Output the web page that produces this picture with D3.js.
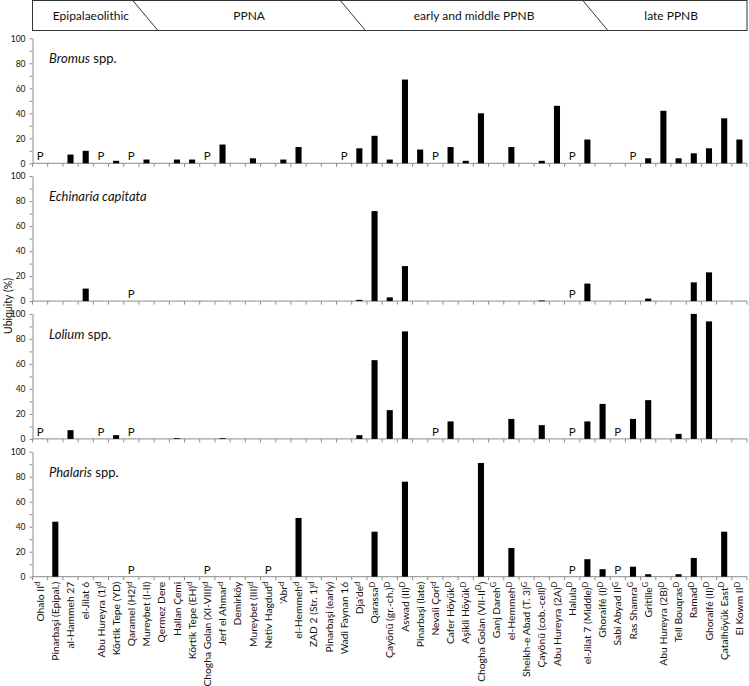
<!DOCTYPE html>
<html>
<head>
<meta charset="utf-8">
<script src="https://cdn.jsdelivr.net/npm/d3@7"></script>
<style>
body { margin: 0; background: #fff; }
text { font-family: Lato, "Open Sans", sans-serif; fill: #111; }
</style>
</head>
<body>
<svg id="chart" width="749" height="686"></svg>
<script>
// site names, "^x" marks a superscript letter
var sites = [
  "Ohalo II^d", "Pinarbaşi (Epipal.)", "al-Hammeh 27", "el-Jilat 6", "Abu Hureyra (1)^d",
  "Körtik Tepe (YD)", "Qaramel (H2)^d", "Mureybet (I-II)", "Qermez Dere", "Hallan Çemi",
  "Körtik Tepe (EH)^d", "Chogha Golan (XI-VIII)^d", "Jerf el Ahmar^d", "Demirköy", "Mureybet (III)^d",
  "Netiv Hagdud^d", "'Abr^d", "el-Hemmeh^d", "ZAD 2 (Str. 1)^d", "Pinarbaşi (early)",
  "Wadi Faynan 16", "Dja'de^d", "Qarassa^D", "Çayönü (gr.-ch.)^D", "Aswad (II)^D",
  "Pinarbaşi (late)", "Nevali Çori^d", "Cafer Höyük^D", "Aşikli Höyük^D", "Chogha Golan (VII-II^D)",
  "Ganj Dareh^G", "el-Hemmeh^D", "Sheikh-e Abad (T. 3)^G", "Çayönü (cob.-cell)^D", "Abu Hureyra (2A)^D",
  "Halula^D", "el-Jilat 7 (Middle)^D", "Ghoraifé (I)^D", "Sabi Abyad II^G", "Ras Shamra^G",
  "Gritille^G", "Abu Hureyra (2B)^D", "Tell Bouqras^D", "Ramad^D", "Ghoraifé (II)^D",
  "Çatalhöyük East^D", "El Kowm II^D"
];

// ubiquity (%) per site, "P" = present
var bromus = [
  "P", 0, 7, 10, "P", 2, "P", 3, 0, 3,
  3, "P", 15, 0, 4, 0, 3, 13, 0, 0,
  "P", 12, 22, 3, 67, 11, "P", 13, 2, 40,
  0, 13, 0, 2, 46, "P", 19, 0, 0, "P",
  4, 42, 4, 8, 12, 36, 19
];
var echinaria = [
  0, 0, 0, 10, 0, 0, "P", 0, 0, 0,
  0, 0, 0, 0, 0, 0, 0, 0, 0, 0,
  0, 1, 72, 3, 28, 0, 0, 0, 0, 0,
  0, 0, 0, 0.5, 0, "P", 14, 0, 0, 0,
  2, 0, 0, 15, 23, 0, 0
];
var lolium = [
  "P", 0, 7, 0, "P", 3, "P", 0, 0, 0.6,
  0, 0, 0.6, 0, 0, 0, 0, 0, 0, 0,
  0, 3, 63, 23, 86, 0, "P", 14, 0, 0,
  0, 16, 0, 11, 0, "P", 14, 28, "P", 16,
  31, 0, 4, 100, 94, 0, 0
];
var phalaris = [
  0, 44, 0, 0, 0, 0, "P", 0, 0, 0,
  0, "P", 0, 0, 0, "P", 0, 47, 0, 0,
  0, 0, 36, 0, 76, 0, 0, 0, 0, 91,
  0, 23, 0, 0, 0, "P", 14, 6, "P", 8,
  2, 0, 2, 15, 0, 36, 0
];

var taxa = [
  { genus: "Bromus", rest: " spp.", values: bromus },
  { genus: "Echinaria capitata", rest: "", values: echinaria },
  { genus: "Lolium", rest: " spp.", values: lolium },
  { genus: "Phalaris", rest: " spp.", values: phalaris }
];

// periods, given as site positions where the dividing line starts (top) and ends (bottom)
var periods = ["Epipalaeolithic", "PPNA", "early and middle PPNB", "late PPNB"];
var periodBreaks = [[6.6, 8.25], [20.25, 21.9], [36.2, 37.85]];

var svg = d3.select("#chart");
var left = 32.5, right = 747;
var panelTop = 38.3, panelH = 125, panelGap = 137.8;
var axisColor = "#8c8c8c";

var x = d3.scaleBand().domain(d3.range(sites.length)).range([left, right]);
var step = x.step();
var barW = step * 0.4;

// period band
var bandH = 30;
var band = svg.append("g");
band.append("rect")
  .attr("x", left).attr("y", 0.5)
  .attr("width", right - left).attr("height", bandH)
  .attr("fill", "none").attr("stroke", "#333").attr("stroke-width", 1);
var pos = d3.scaleLinear().domain([0, sites.length]).range([left, right]);
band.selectAll("line.div")
  .data(periodBreaks)
  .join("line")
  .attr("x1", d => pos(d[0])).attr("y1", 0.5)
  .attr("x2", d => pos(d[1])).attr("y2", bandH + 0.5)
  .attr("stroke", "#333").attr("stroke-width", 1);
var edges = [0].concat(periodBreaks.map(d => (d[0] + d[1]) / 2), [sites.length]);
band.selectAll("text")
  .data(periods)
  .join("text")
  .attr("x", (d, i) => pos((edges[i] + edges[i + 1]) / 2) + (i === 0 ? 2 : 0))
  .attr("y", 15.5)
  .attr("dy", "0.35em")
  .attr("text-anchor", "middle")
  .style("font-size", "12px")
  .text(d => d);

taxa.forEach(function (t, k) {
  var top = panelTop + k * panelGap;
  var y = d3.scaleLinear().domain([0, 100]).range([top + panelH, top]);
  var g = svg.append("g");

  // y axis
  var ya = g.append("g")
    .attr("transform", "translate(" + left + ",0)")
    .call(d3.axisLeft(y).tickValues(d3.range(0, 101, 10)).tickSize(3).tickSizeOuter(0)
      .tickFormat(d => d % 20 === 0 ? d : ""));
  ya.select(".domain").attr("stroke", axisColor);
  ya.selectAll(".tick line").attr("stroke", axisColor);
  ya.selectAll(".tick text").attr("x", -7).style("font-size", "8.5px")
    .style("font-family", "Lato, sans-serif").attr("fill", "#222");

  // x axis line and tick marks between sites
  var y0 = y(0);
  g.append("line")
    .attr("x1", left).attr("x2", right).attr("y1", y0).attr("y2", y0)
    .attr("stroke", axisColor);
  g.selectAll("line.xt")
    .data(d3.range(sites.length + 1))
    .join("line")
    .attr("x1", d => pos(d)).attr("x2", d => pos(d))
    .attr("y1", y0).attr("y2", y0 + 3.5)
    .attr("stroke", axisColor);

  // bars
  g.selectAll("rect.bar")
    .data(t.values.map((v, i) => ({ i: i, v: v })).filter(d => typeof d.v === "number" && d.v > 0))
    .join("rect")
    .attr("x", d => x(d.i) + (step - barW) / 2)
    .attr("y", d => y(d.v))
    .attr("width", barW)
    .attr("height", d => Math.max(0.8, y0 - y(d.v)))
    .attr("fill", "#000");

  // presence markers
  g.selectAll("text.p")
    .data(t.values.map((v, i) => ({ i: i, v: v })).filter(d => d.v === "P"))
    .join("text")
    .attr("x", d => x(d.i) + step / 2)
    .attr("y", y0 - 3)
    .attr("text-anchor", "middle")
    .style("font-size", "11.5px")
    .text("P");

  // taxon title
  var title = g.append("text")
    .attr("x", 49).attr("y", top + 25)
    .style("font-size", "13px");
  title.append("tspan").style("font-style", "italic").text(t.genus);
  title.append("tspan").text(t.rest);

  // site labels on the lowest panel
  if (k === taxa.length - 1) {
    var lab = g.selectAll("text.site")
      .data(sites)
      .join("text")
      .attr("transform", (d, i) => "translate(" + (x(i) + step / 2) + "," + (y0 + 5) + ") rotate(-90)")
      .attr("text-anchor", "end")
      .attr("dy", "0.35em")
      .style("font-size", "10.3px");
    lab.each(function (d) {
      var el = d3.select(this);
      var parts = d.split("^");
      el.append("tspan").text(parts[0]);
      if (parts.length > 1) {
        el.append("tspan").attr("dy", "-0.45em").style("font-size", "7.5px").text(parts[1][0]);
        if (parts[1].length > 1) {
          el.append("tspan").attr("dy", "0.45em").text(parts[1].slice(1));
        }
      }
    });
  }
});

// y axis title
svg.append("text")
  .attr("transform", "translate(8,306) rotate(-90)")
  .attr("text-anchor", "middle")
  .attr("dy", "0.35em")
  .style("font-size", "10.5px")
  .text("Ubiquity (%)");
</script>
</body>
</html>
